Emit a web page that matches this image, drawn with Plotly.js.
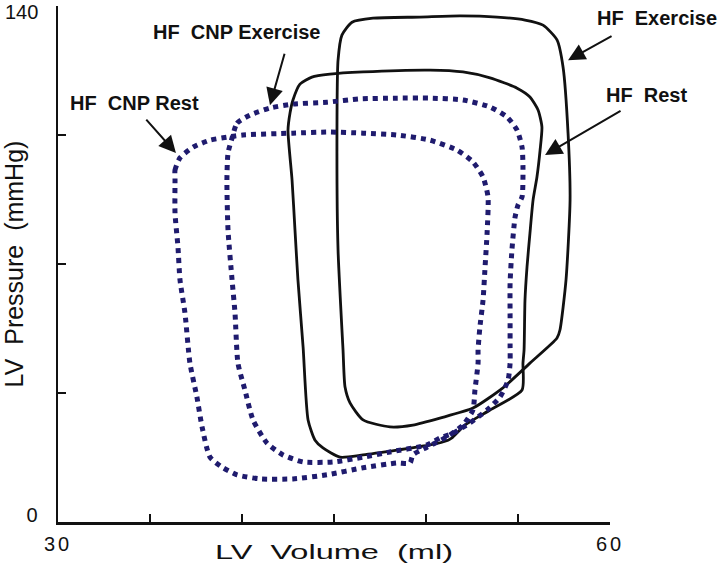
<!DOCTYPE html>
<html><head><meta charset="utf-8">
<script src="https://cdn.plot.ly/plotly-3.0.1.min.js"></script>
<style>
html,body{margin:0;padding:0;background:#fff;}
#chart{width:719px;height:563px;}
#chart .xtitle{transform-box:fill-box;transform-origin:center;transform:scaleX(1.55);}
#chart .xtick text{letter-spacing:3px;}
</style>
</head><body><div id="chart"></div>
<script>
// LV volume (ml) / LV pressure (mmHg) loops
const hfExerciseVol = [45.49,45.22,45.16,45.22,45.43,45.98,47.12,49.67,51.85,53.86,55.38,56.36,57.12,57.45,57.72,57.83,57.61,57.28,57.12,55.65,54.18,52.55,50.76,49.29,48.04,46.58,45.87,45.60,45.49];
const hfExerciseP   = [46.7,73.8,100.9,125.3,132.1,135.6,136.7,137.0,137.3,137.0,136.2,134.8,130.8,123.4,105.5,87.4,65.7,52.1,49.9,43.1,36.4,30.9,28.2,26.3,25.8,27.7,32.3,36.6,46.7];

const hfRestVol = [43.04,42.88,42.72,42.50,42.61,42.77,43.15,43.80,44.78,46.58,50.22,52.01,53.48,54.95,55.65,56.09,56.30,56.20,56.03,55.82,55.65,55.49,55.38,55.33,55.27,55.22,53.48,52.12,51.41,51.20,50.22,48.42,46.58,45.33,44.40,43.97,43.59,43.32,43.04];
const hfRestP   = [65.7,79.2,92.8,106.3,111.0,114.5,118.8,120.7,121.5,122.1,122.6,122.1,120.5,117.7,115.3,111.8,107.2,100.9,93.6,87.4,78.4,69.2,60.2,46.7,43.1,35.8,30.4,26.3,22.8,22.2,20.9,19.5,18.2,17.6,20.1,22.2,27.7,47.5,65.7];

const cnpRestVol = [36.36,36.36,36.63,37.34,38.26,39.18,40.05,42.77,44.78,46.58,48.42,50.22,51.68,52.55,53.10,53.37,53.32,53.21,53.10,52.93,52.83,52.83,52.66,52.55,52.01,51.14,50.05,49.29,49.13,48.42,46.58,44.62,42.77,40.98,39.73,38.91,38.26,37.83,37.55,37.17,36.90,36.63,36.52,36.36,36.36];
const cnpRestP   = [92.8,95.5,98.8,101.7,103.6,104.4,105.0,105.5,105.8,105.5,105.0,103.6,100.9,97.7,93.6,88.2,78.4,69.2,60.2,52.9,46.7,43.1,35.8,30.4,26.3,23.1,20.3,18.2,16.0,16.0,14.7,12.8,11.7,11.7,12.8,14.9,17.6,25.8,33.9,43.1,56.7,65.7,74.6,83.8,92.8];

const cnpExerciseVol = [39.46,39.73,40.43,41.52,42.77,44.62,46.41,48.42,50.22,52.01,53.48,54.40,54.95,55.22,55.27,55.22,55.00,54.84,54.67,54.57,54.57,54.57,54.57,54.46,54.02,53.32,52.39,51.47,50.76,50.05,48.04,46.58,44.95,43.32,42.23,41.36,40.60,40.16,39.78,39.62,39.46,39.24,39.18,39.24,39.46];
const cnpExerciseP   = [104.2,108.2,110.4,112.3,113.4,113.9,114.8,115.0,115.0,114.5,112.6,109.9,106.3,101.7,96.3,88.2,86.0,82.7,73.8,64.8,55.6,47.5,43.1,38.5,33.9,30.4,26.9,24.1,22.8,20.9,19.0,17.6,16.3,16.3,18.2,21.4,27.7,35.8,43.1,56.7,65.7,79.2,92.8,100.1,104.2];

const xTickVals = [30,35,40,45,50,55,60];
const xTickText = ['30','','','','','','60'];
const yTickVals = [0,35,70,105,140];
const yTickText = ['0','','','',''];
const yTopLabel = '140';

const labelNames = ['HF\u00a0\u00a0CNP Exercise','HF\u00a0\u00a0CNP Rest','HF\u00a0\u00a0Exercise','HF\u00a0\u00a0Rest'];
const labelVol = [39.73,34.18,62.55,61.96];
const labelP = [132.9,113.7,136.7,115.8];
const arrowTipVol = [41.52,36.41,57.72,56.47];
const arrowTipP = [113.1,100.1,125.3,99.6];
const arrowTailDx = [15,-31,45,77];
const arrowTailDy = [-53,-35,-25,-45];

const xMin = 30, xMax = 60, yMin = 0, yMax = 140;
const navy = '#1f1b6e';
const solid = {color:'#111', width:2.8, shape:'spline', smoothing:0.6};
const dotted = {color:navy, width:5, dash:'5px,5px', shape:'spline', smoothing:0.6};

const traces = [
  {x:hfExerciseVol, y:hfExerciseP, mode:'lines', line:solid, name:'HF Exercise'},
  {x:hfRestVol, y:hfRestP, mode:'lines', line:solid, name:'HF Rest'},
  {x:cnpExerciseVol, y:cnpExerciseP, mode:'lines', line:dotted, name:'HF CNP Exercise'},
  {x:cnpRestVol, y:cnpRestP, mode:'lines', line:dotted, name:'HF CNP Rest'}
];

const axisFont = {family:'Liberation Sans, Arial, sans-serif', size:20, color:'#111'};
const annotations = [];
for (let i=0;i<labelNames.length;i++){
  annotations.push({x:(labelVol[i]-xMin)/(xMax-xMin), y:(labelP[i]-yMin)/(yMax-yMin), xref:'paper', yref:'paper',
    xanchor:'center', yanchor:'middle', text:labelNames[i], showarrow:false,
    font:{family:'Liberation Sans, Arial, sans-serif', size:20, color:'#111', weight:'bold'}});
  annotations.push({x:arrowTipVol[i], y:arrowTipP[i], xref:'x', yref:'y', text:'', showarrow:true,
    ax:arrowTailDx[i], ay:arrowTailDy[i], arrowhead:2, arrowsize:1.7, arrowwidth:2, arrowcolor:'#111', standoff:0});
}
// top y tick label (placed as text so it is not clipped at the page edge)
annotations.push({x:0, y:1, xref:'paper', yref:'paper', xanchor:'right', yanchor:'top', xshift:-18, yshift:7,
  text:yTopLabel, showarrow:false, font:axisFont});

const layout = {
  width:719, height:563,
  margin:{l:58, r:109, t:6, b:41},
  paper_bgcolor:'#fff', plot_bgcolor:'#fff',
  showlegend:false,
  xaxis:{range:[xMin,xMax], tickvals:xTickVals, ticktext:xTickText, ticks:'inside', ticklen:8, tickwidth:2, tickcolor:'#111',
    showline:true, linecolor:'#111', linewidth:2.5, showgrid:false, zeroline:false, tickfont:axisFont, ticklabelstandoff:2,
    ticklabeloverflow:'allow',
    title:{text:'LV\u00a0\u00a0Volume\u00a0\u00a0(ml)', font:{family:'Liberation Sans, Arial, sans-serif', size:21, color:'#111'}}},
  yaxis:{range:[yMin,yMax], tickvals:yTickVals, ticktext:yTickText, ticks:'inside', ticklen:8, tickwidth:2, tickcolor:'#111',
    showline:true, linecolor:'#111', linewidth:2.5, showgrid:false, zeroline:false, tickfont:axisFont, ticklabelstandoff:14,
    ticklabeloverflow:'allow', ticklabelshift:-7,
    title:{text:'LV\u00a0\u00a0Pressure\u00a0\u00a0(mmHg)\u00a0\u00a0\u00a0\u00a0', font:{family:'Liberation Sans, Arial, sans-serif', size:25, color:'#111'}}},
  annotations:annotations
};
Plotly.newPlot('chart', traces, layout, {displayModeBar:false, staticPlot:true});
</script></body></html>
